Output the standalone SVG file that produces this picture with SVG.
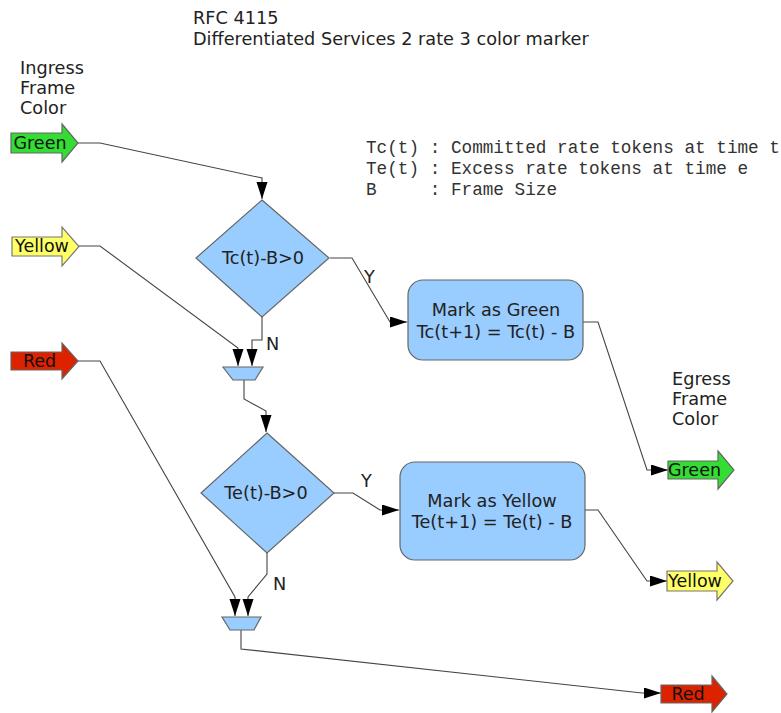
<svg xmlns="http://www.w3.org/2000/svg" width="781" height="713" viewBox="0 0 781 713">
<defs>
<marker id="ah" markerUnits="userSpaceOnUse" markerWidth="18" markerHeight="12" refX="17" refY="5.5" orient="auto">
<path d="M0,0 L17,5.5 L0,11 Z" fill="#000"/>
</marker>
<style>
.t{font-family:"DejaVu Sans","Liberation Sans",sans-serif;font-size:17.7px;fill:#222}
.a{font-size:17.5px;fill:#111}
.m{font-family:"Liberation Mono","DejaVu Sans Mono",monospace;font-size:17.7px;fill:#333;white-space:pre}
.c{text-anchor:middle}
.node{fill:#99ccff;stroke:#666;stroke-width:1.2}
.conn{fill:none;stroke:#444;stroke-width:1.1}
.g{fill:#33dd33;stroke:#666;stroke-width:1.2}
.y{fill:#ffff66;stroke:#777;stroke-width:1.2}
.r{fill:#dd2200;stroke:#666;stroke-width:1.2}
</style>
</defs>
<rect width="781" height="713" fill="#fff"/>

<g id="title">
<text class="t" x="193" y="24">RFC 4115</text>
<text class="t" x="193" y="45">Differentiated Services 2 rate 3 color marker</text>
</g>
<g id="ingress-label">
<text class="t" x="20" y="74">Ingress</text>
<text class="t" x="20" y="94">Frame</text>
<text class="t" x="20" y="114">Color</text>
</g>
<g id="legend">
<text class="m" x="366" y="153">Tc(t) : Committed rate tokens at time t</text>
<text class="m" x="366" y="174">Te(t) : Excess rate tokens at time e</text>
<text class="m" x="366" y="195">B     : Frame Size</text>
</g>
<g id="egress-label">
<text class="t" x="672" y="385">Egress</text>
<text class="t" x="672" y="405">Frame</text>
<text class="t" x="672" y="425">Color</text>
</g>

<g id="connectors">
<path class="conn" d="M78,143 H100 L262,178 V199" marker-end="url(#ah)"/>
<path class="conn" d="M79,246 H100 L238,348 V366" marker-end="url(#ah)"/>
<path class="conn" d="M78,361 H100 L235,597 V616" marker-end="url(#ah)"/>
<path class="conn" d="M330,258 H352 L390,322 H407" marker-end="url(#ah)"/>
<path class="conn" d="M262,317 V340 H252 V366" marker-end="url(#ah)"/>
<path class="conn" d="M244,380 V399 L266,411 V432" marker-end="url(#ah)"/>
<path class="conn" d="M334,493 H353 L380,510 H399" marker-end="url(#ah)"/>
<path class="conn" d="M267,553 V574 L248,597 V616" marker-end="url(#ah)"/>
<path class="conn" d="M241,630 V649 L642,693 H661" marker-end="url(#ah)"/>
<path class="conn" d="M583,322 H598 L647,470 H668" marker-end="url(#ah)"/>
<path class="conn" d="M585,510 H598 L647,581 H667" marker-end="url(#ah)"/>
<text class="t" x="364" y="283">Y</text>
<text class="t" x="266" y="350">N</text>
<text class="t" x="361" y="487">Y</text>
<text class="t" x="273" y="590">N</text>
</g>

<g id="in-green">
<path class="g" d="M11,133 H62 V124 L78,143 L62,162 V153 H11 Z"/>
<text class="t a c" x="40" y="149">Green</text>
</g>
<g id="in-yellow">
<path class="y" d="M12,237 H62 V227 L79,246.5 L62,266 V256 H12 Z"/>
<text class="t a c" x="42" y="252">Yellow</text>
</g>
<g id="in-red">
<path class="r" d="M11,352 H62 V343 L78,361 L62,379 V370 H11 Z"/>
<text class="t a c" x="39.5" y="367">Red</text>
</g>

<g id="decision-tc">
<path class="node" d="M262,200 L329,258 L262,317 L196,258 Z"/>
<text class="t c" x="263" y="264">Tc(t)-B&gt;0</text>
</g>
<g id="merge-1">
<path class="node" d="M223,367 H263 L255,380 H233 Z"/>
</g>
<g id="decision-te">
<path class="node" d="M267,433 L334,493 L267,553 L201,493 Z"/>
<text class="t c" x="266" y="499">Te(t)-B&gt;0</text>
</g>
<g id="merge-2">
<path class="node" d="M222,617 H261 L254,630 H230 Z"/>
</g>

<g id="mark-green">
<rect class="node" x="408" y="280" width="175" height="80" rx="15" ry="15"/>
<text class="t c" x="496" y="316">Mark as Green</text>
<text class="t c" x="496" y="338">Tc(t+1) = Tc(t) - B</text>
</g>
<g id="mark-yellow">
<rect class="node" x="400" y="462" width="185" height="98" rx="15" ry="15"/>
<text class="t c" x="492" y="507">Mark as Yellow</text>
<text class="t c" x="492" y="528">Te(t+1) = Te(t) - B</text>
</g>

<g id="out-green">
<path class="g" d="M668,461 H718 V451 L734,470 L718,489 V479 H668 Z"/>
<text class="t a c" x="694.5" y="476">Green</text>
</g>
<g id="out-yellow">
<path class="y" d="M667,571 H717 V562 L733,581 L717,600 V591 H667 Z"/>
<text class="t a c" x="695" y="587">Yellow</text>
</g>
<g id="out-red">
<path class="r" d="M661,685 H712 V676 L727,694 L712,712 V703 H661 Z"/>
<text class="t a c" x="688" y="700">Red</text>
</g>
</svg>
